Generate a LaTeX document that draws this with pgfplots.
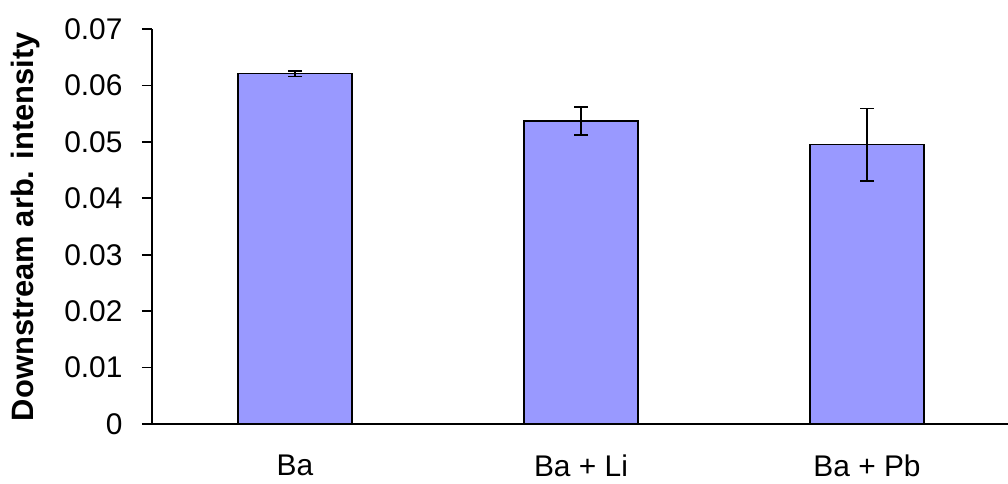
\documentclass[border=0pt]{standalone}
\usepackage{fontspec}
\setmainfont{Liberation Sans}
\usepackage{pgfplots}
\pgfplotsset{compat=1.18}
\definecolor{barblue}{HTML}{9999FF}
\begin{document}
\begin{tikzpicture}
\begin{axis}[
  name=ax,
  scale only axis, width=856bp, height=395bp,
  xmin=-0.5, xmax=2.493, ymin=0, ymax=0.07,
  axis x line*=bottom, axis y line*=left,
  axis line style={line width=1.6bp, black},
  tick align=outside,
  scaled y ticks=false,
  ytick={0,0.01,0.02,0.03,0.04,0.05,0.06,0.07},
  yticklabels={0,0.01,0.02,0.03,0.04,0.05,0.06,0.07},
  y tick label style={font=\fontsize{30}{36}\selectfont, xshift=-16bp},
  ytick style={line width=1.6bp, black},
  major tick length=10bp,
  xtick={0,1,2},
  xticklabels={Ba, Ba + Li, Ba + Pb},
  x tick label style={font=\fontsize{30}{36}\selectfont, yshift=-17bp},
  xtick style={draw=none},
  extra x ticks={-0.5,0.5,1.5},
  extra x tick labels={},
  extra x tick style={xtick style={line width=1.6bp, black}},
  ylabel={\bfseries Downstream arb. intensity},
  ylabel style={font=\fontsize{31}{37}\selectfont, at={(axis description cs:-0.148,0.5)}, rotate=0, anchor=center},
  clip=false,
]
\addplot[ybar, bar width=114bp, fill=barblue, draw=black, line width=1.6bp,
  error bars/.cd, y dir=both, y explicit,
  error bar style={line width=1.6bp, black},
  error mark options={line width=1.6bp, black, mark size=7bp, rotate=90}]
  table[x=x, y=y, y error=e] {
x y e
0 0.0621 0.0005
1 0.0537 0.0025
2 0.0495 0.0064
};
\end{axis}
\pgfresetboundingbox
\path[use as bounding box] ([xshift=-152bp,yshift=-60bp]ax.south west) rectangle +(1008bp,484bp);
\end{tikzpicture}
\end{document}
